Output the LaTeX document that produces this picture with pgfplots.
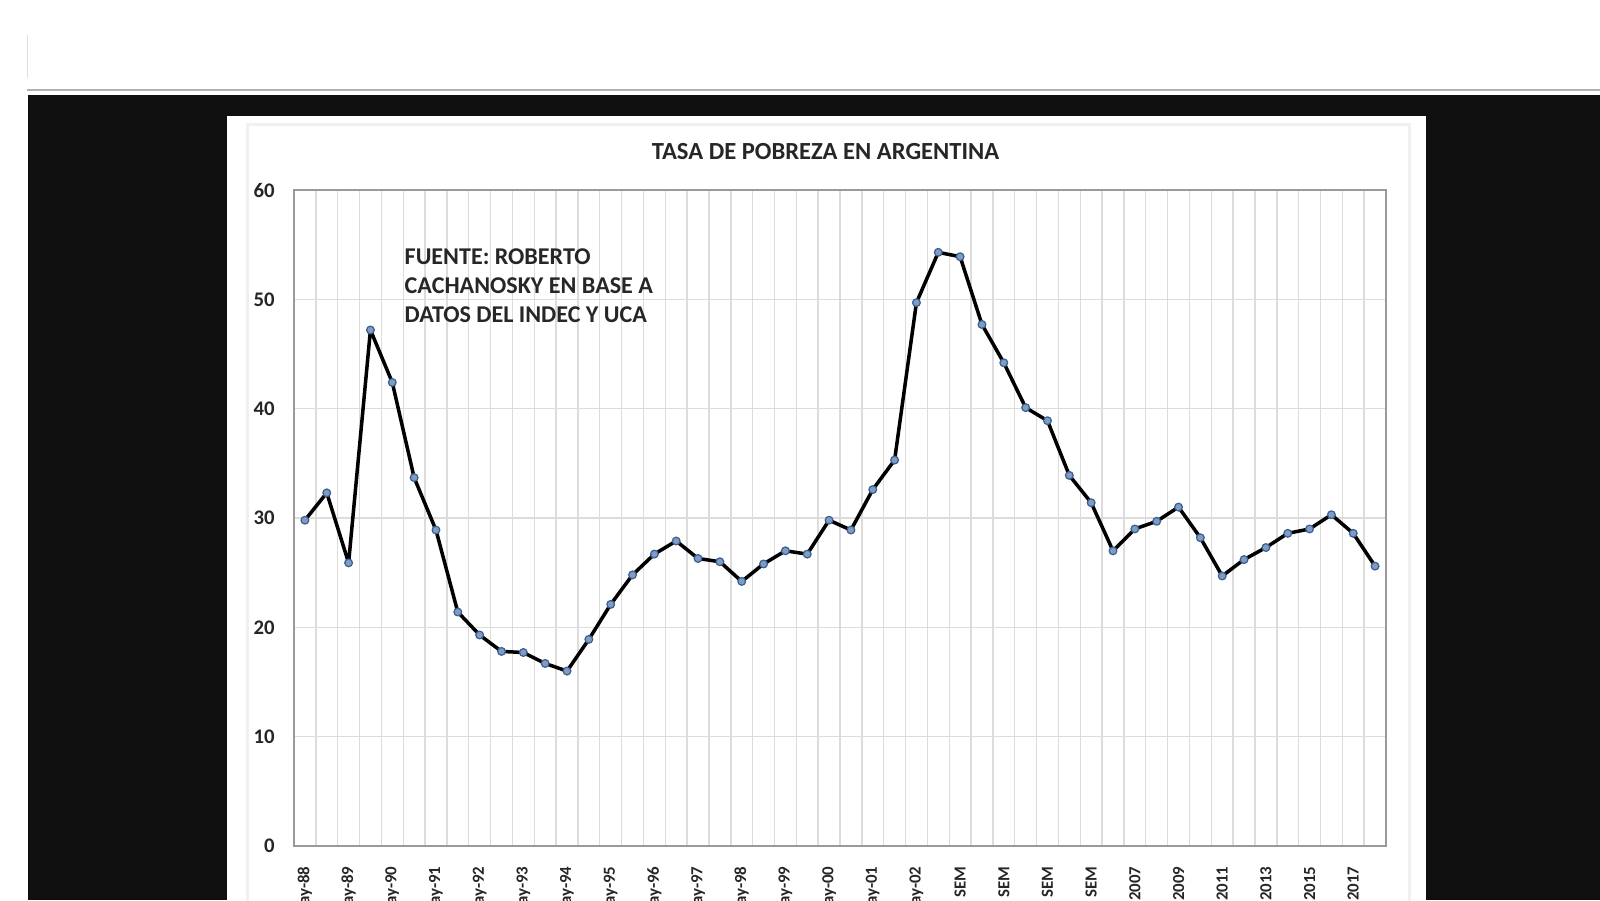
\documentclass[border=0pt]{standalone}
\usepackage{fontspec}
\setmainfont{Carlito}
\usepackage{pgfplots}
\pgfplotsset{compat=1.18}
\definecolor{framec}{HTML}{0F0F0F}
\definecolor{gridc}{HTML}{DCDCDC}
\definecolor{axc}{HTML}{9A9A9A}
\definecolor{mfill}{HTML}{7F9CC4}
\definecolor{mdraw}{HTML}{3E5F8E}
\definecolor{txt}{HTML}{262626}
\begin{document}
\begin{tikzpicture}
\path[use as bounding box] (0mm,0mm) rectangle (160mm,-90mm);
\clip (0mm,0mm) rectangle (160mm,-90mm);
\fill[white] (0mm,0mm) rectangle (160mm,-90mm);
\draw[gray!25, line width=0.1mm] (2.75mm,-3.5mm) -- (2.75mm,-7.8mm);
\draw[gray!60, line width=0.25mm] (2.7mm,-9.0mm) -- (160mm,-9.0mm);
\fill[framec] (2.75mm,-9.5mm) rectangle (160mm,-90mm);
\fill[white] (22.65mm,-11.6mm) rectangle (142.6mm,-90mm);
\draw[gray!12, line width=0.3mm] (24.7mm,-12.4mm) rectangle (140.9mm,-95mm);
\begin{axis}[
  at={(29.4mm,-84.6mm)}, anchor=south west,
  scale only axis, width=109.2mm, height=65.6mm,
  xmin=0.5, xmax=50.5, ymin=0, ymax=60,
  ytick={0,10,...,60},
  xtick={1,3,...,49},
  xticklabels={may-88,may-89,may-90,may-91,may-92,may-93,may-94,may-95,may-96,may-97,may-98,may-99,may-00,may-01,may-02,SEM,SEM,SEM,SEM,2007,2009,2011,2013,2015,2017},
  minor xtick={0.5,1.5,...,50.5},
  xminorgrids=true, ymajorgrids=true,
  minor grid style={gridc, line width=0.4pt},
  major grid style={gridc, line width=0.4pt},
  major tick style={draw=none},
  minor tick style={draw=none},
  axis line style={axc, line width=0.7pt},
  /pgf/number format/assume math mode=true,
  yticklabel style={font=\fontsize{5.9}{6.5}\selectfont\bfseries, text=txt, xshift=-2pt},
  xticklabel style={font=\fontsize{4.8}{5.5}\selectfont\bfseries, text=txt, yshift=-2.3pt, rotate=90, anchor=east},
]
\addplot[black, line width=1pt, line join=round, mark=*, mark size=1.1pt,
  mark options={fill=mfill, draw=mdraw, line width=0.35pt}] coordinates {
(1,29.8) (2,32.3) (3,25.9) (4,47.2) (5,42.4) (6,33.7) (7,28.9) (8,21.4) (9,19.3) (10,17.8)
(11,17.7) (12,16.7) (13,16.0) (14,18.9) (15,22.1) (16,24.8) (17,26.7) (18,27.9) (19,26.3) (20,26.0)
(21,24.2) (22,25.8) (23,27.0) (24,26.7) (25,29.8) (26,28.9) (27,32.6) (28,35.3) (29,49.7) (30,54.3)
(31,53.9) (32,47.7) (33,44.2) (34,40.1) (35,38.9) (36,33.9) (37,31.4) (38,27.0) (39,29.0) (40,29.7)
(41,31.0) (42,28.2) (43,24.7) (44,26.2) (45,27.3) (46,28.6) (47,29.0) (48,30.3) (49,28.6) (50,25.6)
};
\end{axis}
\node[anchor=base, font=\fontsize{7}{8}\selectfont\bfseries, text=txt, inner sep=0pt] at (82.55mm,-15.9mm) {TASA DE POBREZA EN ARGENTINA};
\node[anchor=base west, font=\fontsize{6.85}{8}\selectfont\bfseries, text=txt, inner sep=0pt] at (40.4mm,-26.43mm) {FUENTE: ROBERTO};
\node[anchor=base west, font=\fontsize{6.85}{8}\selectfont\bfseries, text=txt, inner sep=0pt] at (40.4mm,-29.39mm) {CACHANOSKY EN BASE A};
\node[anchor=base west, font=\fontsize{6.85}{8}\selectfont\bfseries, text=txt, inner sep=0pt] at (40.4mm,-32.24mm) {DATOS DEL INDEC Y UCA};
\end{tikzpicture}
\end{document}
